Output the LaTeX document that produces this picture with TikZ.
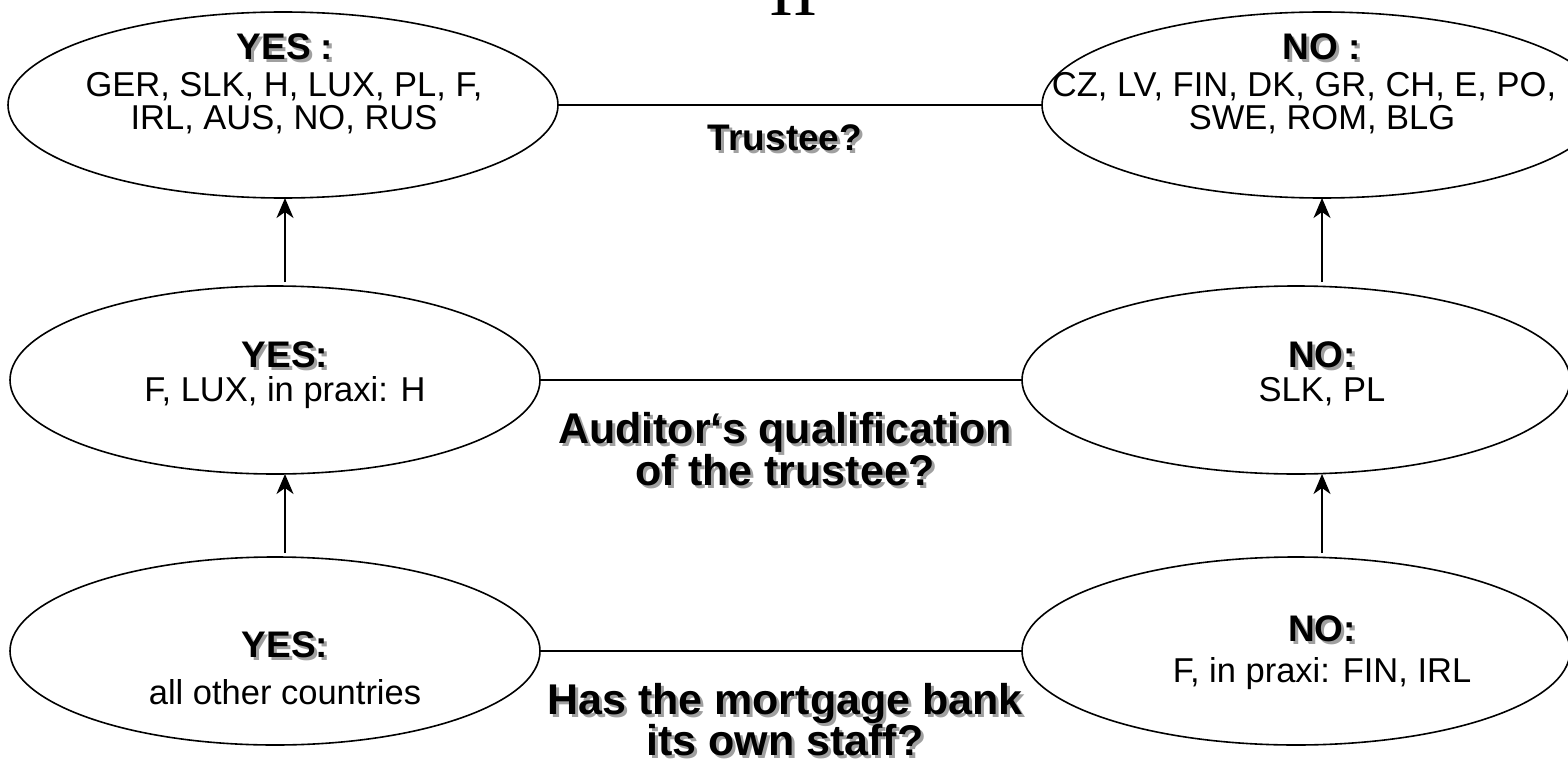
\documentclass[tikz,border=0pt]{standalone}
\usepackage{fontspec}
\setmainfont{Liberation Sans}
\newfontfamily\seriffont{Liberation Serif}
\usetikzlibrary{arrows.meta,shapes.geometric}
\definecolor{shadowgray}{RGB}{160,160,160}
\newcommand{\shad}[1]{\rlap{\kern3pt\lower3pt\hbox{\color{shadowgray}#1}}#1}
\begin{document}
\begin{tikzpicture}[x=1pt,y=-1pt,
  oval/.style={draw, ellipse, line width=1.6pt, inner sep=0pt, outer sep=0pt},
  conn/.style={line width=1.6pt},
  arr/.style={line width=1.6pt, -{Stealth[length=20pt,width=17pt,inset=6pt]}},
  body/.style={font=\fontsize{34.5}{36}\selectfont, anchor=base, inner sep=0pt},
  lab/.style={font=\bfseries\fontsize{37}{40}\selectfont, anchor=base, inner sep=0pt},
  quest/.style={font=\bfseries\fontsize{43}{46}\selectfont, anchor=base, inner sep=0pt}]
\useasboundingbox (0,0) rectangle (1568,765);
\fill[white] (0,0) rectangle (1568,765);

\node[font=\seriffont\fontsize{72}{72}\selectfont, anchor=base, inner sep=0pt] (title) at (793,16) {II};

% ellipses
\node[oval, minimum width=550pt, minimum height=186pt] (tl) at (283,105) {};
\node[oval, minimum width=560pt, minimum height=186pt] (tr) at (1322,105) {};
\node[oval, minimum width=530pt, minimum height=188pt] (ml) at (275,380) {};
\node[oval, minimum width=548pt, minimum height=188pt] (mr) at (1296,380) {};
\node[oval, minimum width=530pt, minimum height=188pt] (bl) at (275,651) {};
\node[oval, minimum width=548pt, minimum height=188pt] (br) at (1296,651) {};

% connectors
\draw[conn] (tl.east) -- (tr.west);
\draw[conn] (ml.east) -- (mr.west);
\draw[conn] (bl.east) -- (br.west);
\draw[arr] ([xshift=10pt,yshift=4pt]ml.north) -- ([xshift=2pt]tl.south);
\draw[arr] ([xshift=26pt,yshift=4pt]mr.north) -- (tr.south);
\draw[arr] ([xshift=10pt,yshift=4pt]bl.north) -- ([xshift=10pt]ml.south);
\draw[arr] ([xshift=26pt,yshift=4pt]br.north) -- ([xshift=26pt]mr.south);

% texts top
\node[lab] (tl1) at (285,60) {\shad{YES :}};
\node[body] (tl2) at (284,97) {GER, SLK, H, LUX, PL, F,};
\node[body] (tl3) at (284,130) {IRL, AUS, NO, RUS};
\node[lab] (tr1) at (1322,60) {\shad{NO :}};
\node[body] (tr2) at (1304,97) {CZ, LV, FIN, DK, GR, CH, E, PO,};
\node[body] (tr3) at (1322,130) {SWE, ROM, BLG};
\node[lab] (q1) at (785,150) {\shad{Trustee?}};

% texts middle
\node[lab] (ml1) at (285,367) {\shad{YES:}};
\node[body] (ml2) at (285,401) {F, LUX, in praxi: H};
\node[lab] (mr1) at (1322,367) {\shad{NO:}};
\node[body] (mr2) at (1322,401) {SLK, PL};
\node[quest] (q2a) at (785,443) {\shad{Auditor‘s qualification}};
\node[quest] (q2b) at (785,485) {\shad{of the trustee?}};

% texts bottom
\node[lab] (bl1) at (285,657) {\shad{YES:}};
\node[body] (bl2) at (285,704) {all other countries};
\node[lab] (br1) at (1322,641) {\shad{NO:}};
\node[body] (br2) at (1322,682) {F, in praxi: FIN, IRL};
\node[quest] (q3a) at (785,714) {\shad{Has the mortgage bank}};
\node[quest] (q3b) at (785,755) {\shad{its own staff?}};
\end{tikzpicture}
\end{document}
